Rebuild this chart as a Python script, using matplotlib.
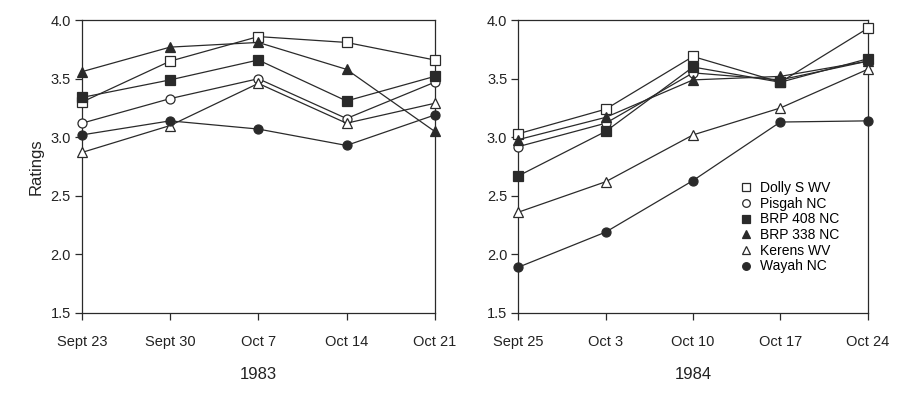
import matplotlib
matplotlib.use("Agg")
import matplotlib.pyplot as plt
from matplotlib.lines import Line2D

plt.rcParams['font.family'] = ['Liberation Sans', 'DejaVu Sans']

dates_1983 = ["Sept 23", "Sept 30", "Oct 7", "Oct 14", "Oct 21"]
dates_1984 = ["Sept 25", "Oct 3", "Oct 10", "Oct 17", "Oct 24"]

names = ["Dolly S WV", "Pisgah NC", "BRP 408 NC", "BRP 338 NC", "Kerens WV", "Wayah NC"]

dolly_83 = [3.30, 3.65, 3.86, 3.81, 3.66]
pisgah_83 = [3.12, 3.33, 3.50, 3.16, 3.47]
brp408_83 = [3.34, 3.49, 3.66, 3.31, 3.52]
brp338_83 = [3.56, 3.77, 3.81, 3.58, 3.05]
kerens_83 = [2.87, 3.10, 3.46, 3.12, 3.29]
wayah_83 = [3.02, 3.14, 3.07, 2.93, 3.19]

dolly_84 = [3.03, 3.24, 3.69, 3.47, 3.93]
pisgah_84 = [2.92, 3.12, 3.55, 3.49, 3.65]
brp408_84 = [2.67, 3.05, 3.60, 3.47, 3.67]
brp338_84 = [2.98, 3.17, 3.49, 3.52, 3.65]
kerens_84 = [2.36, 2.62, 3.02, 3.25, 3.58]
wayah_84 = [1.89, 2.19, 2.63, 3.13, 3.14]

series_83 = [dolly_83, pisgah_83, brp408_83, brp338_83, kerens_83, wayah_83]
series_84 = [dolly_84, pisgah_84, brp408_84, brp338_84, kerens_84, wayah_84]

ink = "#2a2a2a"
styles = [("s", "white"), ("o", "white"), ("s", ink), ("^", ink), ("^", "white"), ("o", ink)]

fig = plt.figure(figsize=(9, 3.96), dpi=100)
ax1 = fig.add_axes([0.091, 0.210, 0.392, 0.739])
ax2 = fig.add_axes([0.576, 0.210, 0.388, 0.739])


def draw(ax, dates, series, year):
    x = range(len(dates))
    for vals, (m, fc) in zip(series, styles):
        ax.plot(x, vals, color=ink, lw=0.9, marker=m, markersize=6.5,
                markerfacecolor=fc, markeredgecolor=ink, markeredgewidth=0.9,
                clip_on=False, zorder=3)
    ax.set_xlim(0, len(dates) - 1)
    ax.set_ylim(1.5, 4.0)
    ax.set_yticks([1.5, 2.0, 2.5, 3.0, 3.5, 4.0])
    ax.set_yticklabels(["%.1f" % v for v in [1.5, 2.0, 2.5, 3.0, 3.5, 4.0]])
    ax.set_xticks(list(x))
    ax.set_xticklabels(dates)
    ax.tick_params(direction="out", length=5, width=0.9, color=ink,
                   labelsize=10.5, labelcolor="#222222", pad=11)
    ax.tick_params(axis="y", pad=3)
    for s in ax.spines.values():
        s.set_linewidth(0.9)
        s.set_color(ink)
    ax.set_xlabel(year, fontsize=12, color="#222222", labelpad=13)


draw(ax1, dates_1983, series_83, "1983")
draw(ax2, dates_1984, series_84, "1984")
ax1.set_ylabel("Ratings", fontsize=12, color="#222222", labelpad=5)

handles = [Line2D([], [], linestyle="none", marker=m, markersize=5.5,
                  markerfacecolor=fc, markeredgecolor=ink, markeredgewidth=0.9)
           for m, fc in styles]
ax2.legend(handles, names, loc="upper left", bbox_to_anchor=(0.635, 0.45),
           frameon=False, fontsize=10, handlelength=0.8, handletextpad=0.6,
           labelspacing=0.12, borderaxespad=0, borderpad=0)

fig.savefig("out.png", dpi=100)
